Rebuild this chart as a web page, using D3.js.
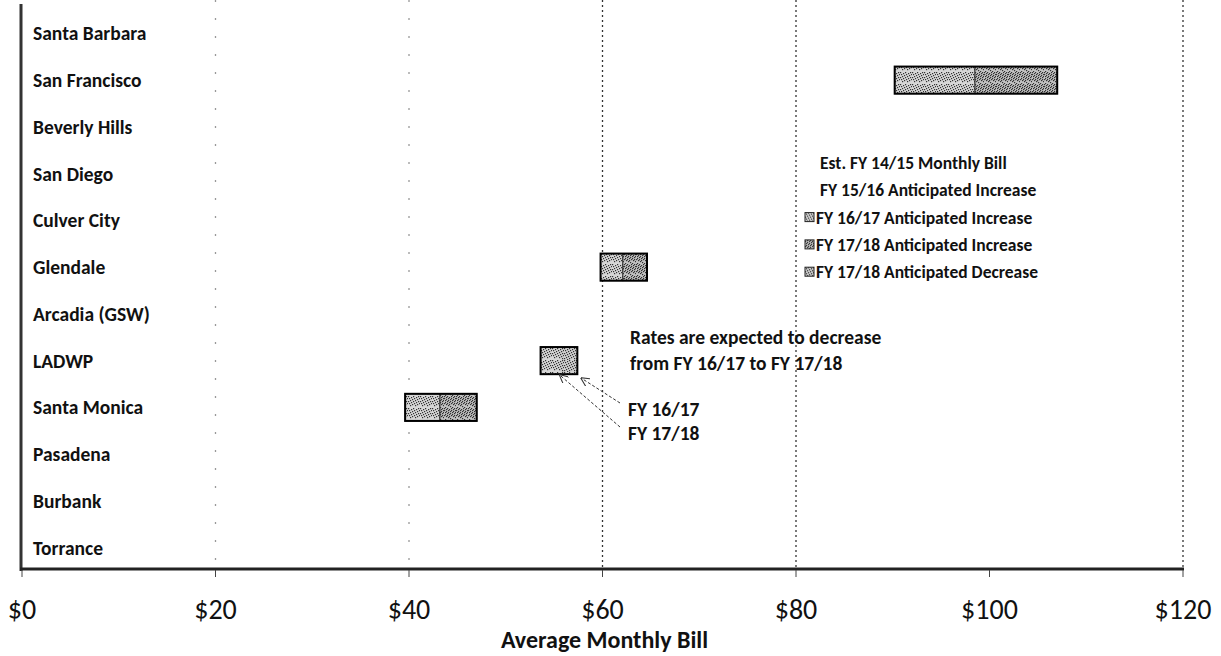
<!DOCTYPE html>
<meta charset="utf-8">
<style>
body { margin: 0; background: #fff; }
svg { font-family: Calibri, Carlito, Lato, "Open Sans", sans-serif; }
.city { font-weight: bold; font-size: 19.5px; fill: #111; }
.tick-label { font-size: 28px; fill: #111; }
.title { font-weight: bold; font-size: 24px; fill: #111; }
.legend text, .note { font-weight: bold; fill: #111; }
</style>
<svg width="1221" height="656"></svg>
<script src="https://cdn.jsdelivr.net/npm/d3@7"></script>
<script>
// cities, top to bottom
var cities = ["Santa Barbara", "San Francisco", "Beverly Hills", "San Diego", "Culver City", "Glendale",
  "Arcadia (GSW)", "LADWP", "Santa Monica", "Pasadena", "Burbank", "Torrance"];

// bill components ($/month); the first two are drawn without fill in the original
var fy1415 = [null, 90.2, null, null, null, 59.8, null, 53.6, 39.6, null, null, null];
var fy1516 = [null, 0, null, null, null, 0, null, 0, 0, null, null, null];
var fy1617 = [null, 8.3, null, null, null, 2.3, null, 3.8, 3.6, null, null, null];
var fy1718Inc = [null, 8.5, null, null, null, 2.5, null, 0, 3.8, null, null, null];
var fy1718Dec = [null, 0, null, null, null, 0, null, -1.8, 0, null, null, null];

var ticks = [0, 20, 40, 60, 80, 100, 120];
var legendLabels = ["Est. FY 14/15 Monthly Bill", "FY 15/16 Anticipated  Increase",
  "FY 16/17 Anticipated Increase", "FY 17/18 Anticipated Increase", "FY 17/18 Anticipated Decrease"];

var svg = d3.select("svg");

var x = d3.scaleLinear().domain([0, 120]).range([22, 1183]);
var y = d3.scaleBand().domain(cities).range([10, 571]).paddingInner(0.42).paddingOuter(0.21);

// speckled fills, like the scanned hatch
var defs = svg.append("defs");
function speckle(id, bg, n, step) {
  var p = defs.append("pattern").attr("id", id).attr("patternUnits", "userSpaceOnUse")
      .attr("width", 12).attr("height", 12);
  p.append("rect").attr("width", 12).attr("height", 12).attr("fill", bg);
  for (var i = 0; i < n; i++) {
    p.append("rect")
        .attr("x", (i * step) % 12).attr("y", Math.floor(i * step / 12) % 12)
        .attr("width", 1.2).attr("height", 1.2).attr("fill", "#333");
  }
}
speckle("p1617", "#d6d6d6", 24, 5);
speckle("p1718", "#c2c2c2", 36, 7);
speckle("pdec", "#cfcfcf", 28, 5);

// gridlines
svg.append("g").selectAll("line")
  .data(ticks.slice(1))
  .enter().append("line")
    .attr("x1", function(d) { return x(d); }).attr("x2", function(d) { return x(d); })
    .attr("y1", 0).attr("y2", 569)
    .attr("stroke", function(d) { return d < 60 ? "#999" : "#333"; })
    .attr("stroke-width", 1.3)
    .attr("stroke-dasharray", function(d) { return d < 60 ? "2,16" : (d == 100 ? "0,1000" : "2,3"); });

// segments
var rows = cities.map(function(c, i) {
  var start = fy1415[i] == null ? null : fy1415[i] + fy1516[i];
  return { city: c, start: start, a: fy1617[i], b: fy1718Inc[i], dec: fy1718Dec[i] };
}).filter(function(d) { return d.start != null; });

var segs = [];
rows.forEach(function(d) {
  var e1 = d.start + d.a;
  if (d.a) segs.push({ city: d.city, x0: d.start, x1: e1, fill: "url(#p1617)" });
  if (d.b) segs.push({ city: d.city, x0: e1, x1: e1 + d.b, fill: "url(#p1718)" });
  if (d.dec) segs.push({ city: d.city, x0: e1 + d.dec, x1: e1, fill: "url(#pdec)" });
});

svg.append("g").selectAll("rect")
  .data(segs)
  .enter().append("rect")
    .attr("x", function(d) { return x(d.x0); })
    .attr("width", function(d) { return x(d.x1) - x(d.x0); })
    .attr("y", function(d) { return y(d.city); })
    .attr("height", y.bandwidth())
    .attr("fill", function(d) { return d.fill; })
    .attr("stroke", function(d) { return d.fill == "url(#pdec)" ? "none" : "#333"; })
    .attr("stroke-width", 1);

// outline box per city
svg.append("g").selectAll("rect")
  .data(rows)
  .enter().append("rect")
    .attr("x", function(d) { return x(d.start); })
    .attr("width", function(d) { return x(d.start + d.a + d.b) - x(d.start); })
    .attr("y", function(d) { return y(d.city); })
    .attr("height", y.bandwidth())
    .attr("fill", "none").attr("stroke", "#000").attr("stroke-width", 2);

// axes
svg.append("line").attr("x1", 21).attr("x2", 21).attr("y1", 4).attr("y2", 571)
    .attr("stroke", "#333").attr("stroke-width", 3);
svg.append("line").attr("x1", 20).attr("x2", 1184).attr("y1", 569).attr("y2", 569)
    .attr("stroke", "#222").attr("stroke-width", 3);

var xt = svg.append("g").selectAll("g").data(ticks).enter().append("g");
xt.append("line")
    .attr("x1", function(d) { return x(d); }).attr("x2", function(d) { return x(d); })
    .attr("y1", 570).attr("y2", 577).attr("stroke", "#444").attr("stroke-width", 1);
xt.append("text").attr("class", "tick-label")
    .attr("x", function(d) { return Math.max(x(d), 18); }).attr("y", 619)
    .attr("text-anchor", "middle")
    .text(function(d) { return "$" + d; });

svg.append("text").attr("class", "title")
    .attr("x", x(60) + 2).attr("y", 648).attr("text-anchor", "middle")
    .text("Average Monthly Bill");

// city labels
svg.append("g").selectAll("text")
  .data(cities)
  .enter().append("text").attr("class", "city")
    .attr("x", 33).attr("y", function(d) { return y(d) + y.bandwidth() / 2 + 7; })
    .text(function(d) { return d; });

// legend
var legendFills = ["none", "none", "url(#p1617)", "url(#p1718)", "url(#pdec)"];
var lg = svg.append("g").attr("class", "legend").selectAll("g")
  .data(legendLabels)
  .enter().append("g")
    .attr("transform", function(d, i) { return "translate(805," + (169 + i * 27.3) + ")"; });
lg.append("rect").attr("x", 0).attr("y", -11).attr("width", 9).attr("height", 9)
    .attr("fill", function(d, i) { return legendFills[i]; })
    .attr("stroke", function(d, i) { return i < 2 ? "none" : "#222"; });
lg.append("text").attr("x", function(d, i) { return i < 2 ? 15 : 11; }).attr("y", 0)
    .style("font-size", "17.5px")
    .text(function(d) { return d; });

// annotation
var notes = [["Rates are expected to decrease", 630, 344], ["from FY 16/17 to FY 17/18", 630, 370],
  ["FY 16/17", 628, 416], ["FY 17/18", 628, 440]];
svg.append("g").selectAll("text")
  .data(notes)
  .enter().append("text").attr("class", "note").style("font-size", "19.5px")
    .attr("x", function(d) { return d[1]; }).attr("y", function(d) { return d[2]; })
    .text(function(d) { return d[0]; });

var arrows = [
  { from: [620, 403], to: [x(57.4) + 4, y("LADWP") + y.bandwidth() + 4] },
  { from: [620, 427], to: [x(55.6), y("LADWP") + y.bandwidth() + 1] }
];
defs.append("marker").attr("id", "ah").attr("viewBox", "0 0 10 10")
    .attr("refX", 9).attr("refY", 5).attr("markerWidth", 9).attr("markerHeight", 9)
    .attr("orient", "auto")
  .append("path").attr("d", "M0,0L10,5L0,10").attr("fill", "none").attr("stroke", "#333").attr("stroke-width", 1.2);
svg.append("g").selectAll("line")
  .data(arrows)
  .enter().append("line")
    .attr("x1", function(d) { return d.from[0]; }).attr("y1", function(d) { return d.from[1]; })
    .attr("x2", function(d) { return d.to[0]; }).attr("y2", function(d) { return d.to[1]; })
    .attr("stroke", "#333").attr("stroke-width", 1).attr("stroke-dasharray", "3,2")
    .attr("marker-end", "url(#ah)");
</script>
